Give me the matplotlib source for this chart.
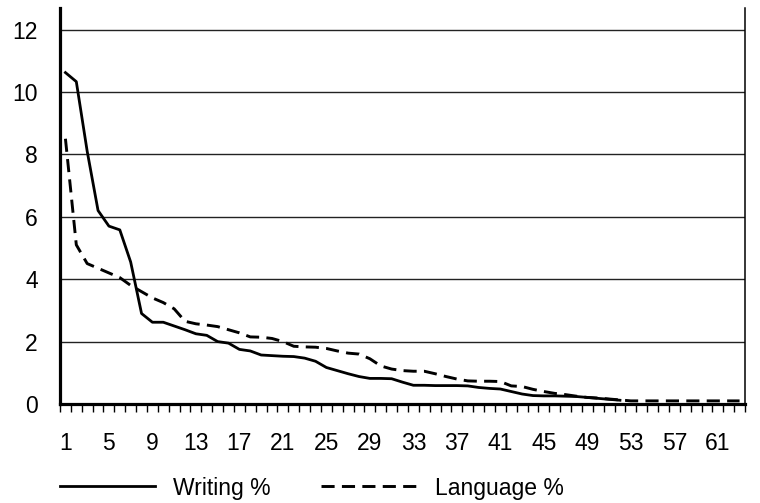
import matplotlib
matplotlib.use("Agg")
import matplotlib.pyplot as plt
import numpy as np

plt.rcParams['font.family'] = ['Liberation Sans', 'DejaVu Sans']

categories = list(range(1, 64))
tick_labels = [str(c) for c in range(1, 62, 4)]

writing = [10.62, 10.33, 8.1, 6.2, 5.7, 5.58, 4.55, 2.9, 2.62, 2.62,
           2.5, 2.38, 2.25, 2.2, 2.0, 1.95, 1.75, 1.7, 1.57, 1.55,
           1.53, 1.52, 1.47, 1.37, 1.17, 1.07, 0.97, 0.88, 0.82, 0.82,
           0.81, 0.7, 0.6, 0.6, 0.59, 0.59, 0.59, 0.58, 0.53, 0.5,
           0.48, 0.4, 0.32, 0.27, 0.26, 0.26, 0.25, 0.24, 0.21, 0.18,
           0.15, 0.12]

language = [8.5, 5.1, 4.5, 4.35, 4.2, 4.05, 3.8, 3.6, 3.4, 3.25,
            3.05, 2.65, 2.57, 2.53, 2.48, 2.38, 2.28, 2.15, 2.14, 2.1,
            2.0, 1.85, 1.83, 1.82, 1.78, 1.7, 1.63, 1.6, 1.45, 1.22,
            1.12, 1.07, 1.05, 1.05, 0.97, 0.88, 0.8, 0.74, 0.73, 0.73,
            0.72, 0.58, 0.56, 0.47, 0.4, 0.34, 0.3, 0.25, 0.21, 0.19,
            0.16, 0.13, 0.1, 0.1, 0.1, 0.1, 0.1, 0.1, 0.1, 0.1,
            0.1, 0.1, 0.1]

series_names = ["Writing %", "Language %"]

W, H = 760, 503
FS = 16.5
fig = plt.figure(figsize=(W / 100, H / 100), dpi=100)
ax = fig.add_axes([60 / W, 1 - 404 / H, (745 - 60) / W, (404 - 8) / H])

n = len(categories)
ax.set_xlim(0.5, n + 0.5)
ax.set_ylim(0, 12.69)

ax.set_yticks([0, 2, 4, 6, 8, 10, 12])
ax.yaxis.grid(True, color='#222222', linewidth=1.0)
ax.set_axisbelow(True)
ax.tick_params(axis='y', length=0, pad=16, labelsize=FS)

# category boundary ticks
ax.set_xticks(np.arange(0.5, n + 1, 1.0))
ax.set_xticklabels([])
ax.tick_params(axis='x', which='major', direction='out', length=6, width=1.0)
# labels at categories
ax.set_xticks(list(range(1, 62, 4)), minor=True)
ax.set_xticklabels(tick_labels, minor=True)
ax.tick_params(axis='x', which='minor', length=0, pad=20, labelsize=FS)

ax.plot(categories[:len(writing)], writing, color='black', linewidth=2.0,
        label=series_names[0])
ax.plot(categories[:len(language)], language, color='black', linewidth=2.1,
        dashes=(4.5, 2.5), label=series_names[1], clip_on=False)

ax.spines['top'].set_visible(False)
ax.spines['left'].set_linewidth(2.3)
ax.spines['bottom'].set_linewidth(2.3)
ax.spines['right'].set_linewidth(1.1)

fig.legend(loc='center left', bbox_to_anchor=(60 / W, 1 - 488 / H), ncol=2,
           frameon=False, fontsize=FS, handlelength=4.15, handletextpad=0.8,
           columnspacing=2.2, borderaxespad=0, borderpad=0)

fig.savefig("out.png", dpi=100)
